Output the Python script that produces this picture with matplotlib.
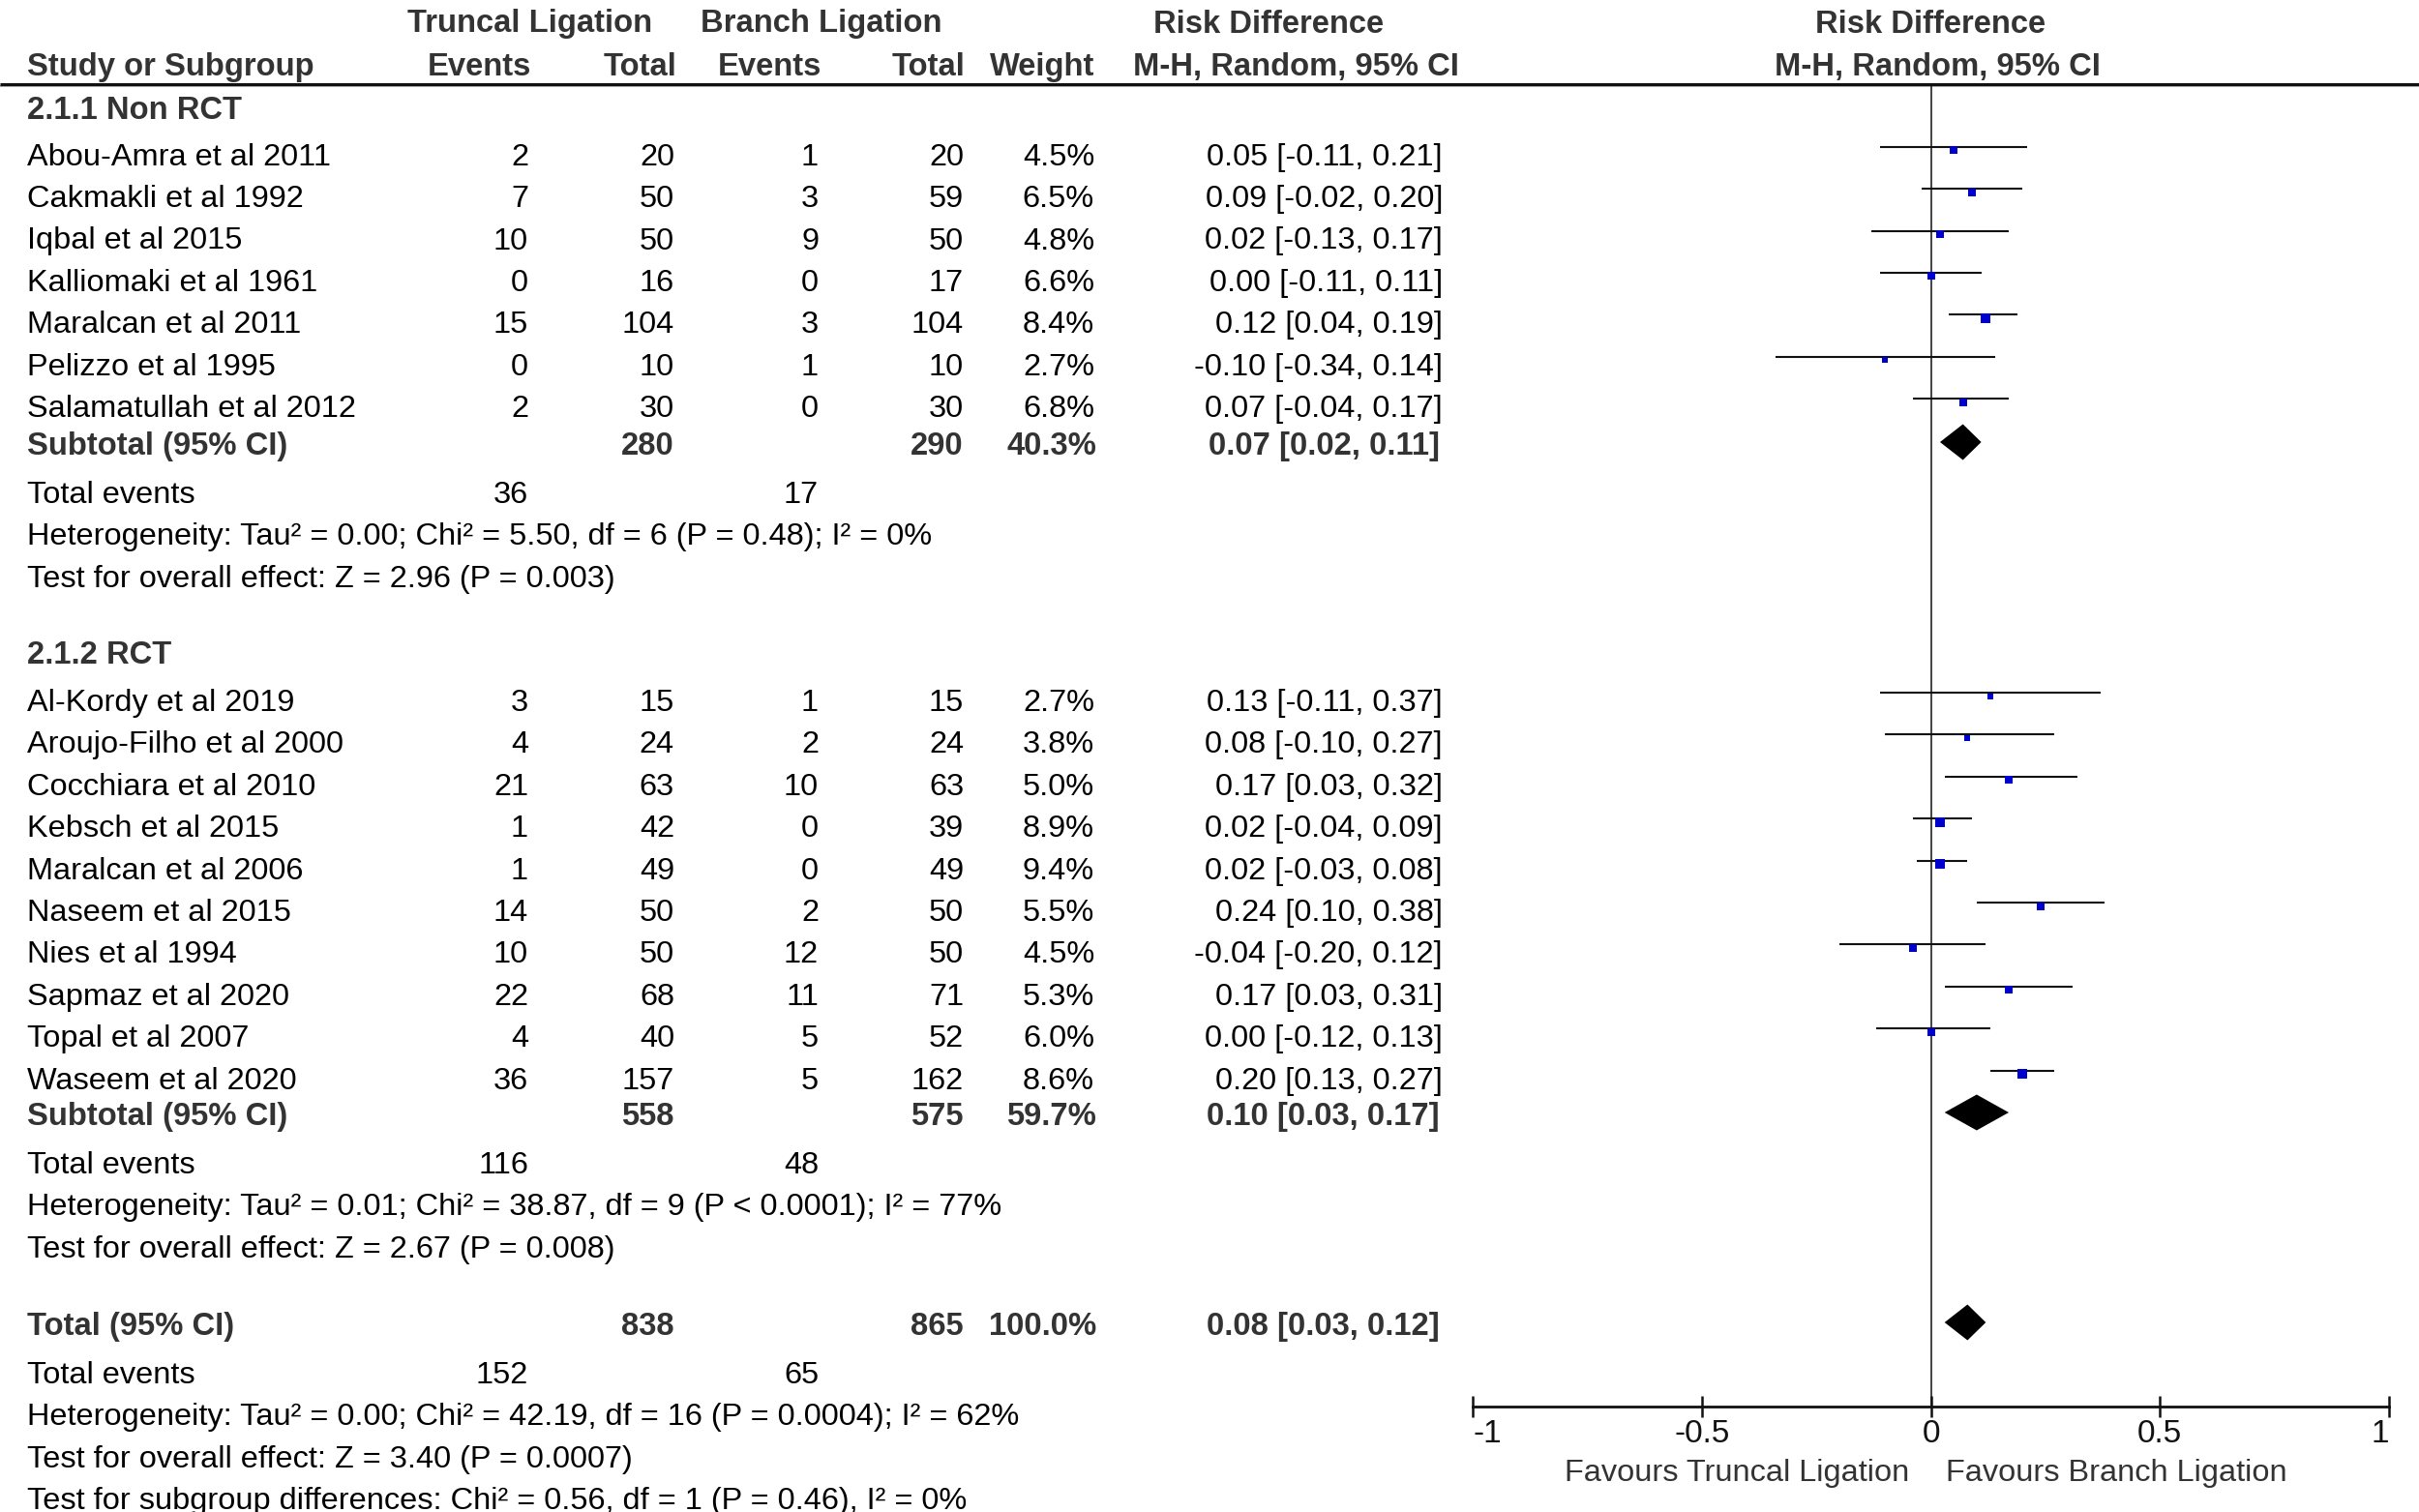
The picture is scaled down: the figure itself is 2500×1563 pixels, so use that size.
import matplotlib
matplotlib.use("Agg")
import matplotlib.pyplot as plt
import numpy as np

plt.rcParams['font.family'] = ['Liberation Sans', 'DejaVu Sans']

# ---------------- data ----------------
group_titles = ["2.1.1 Non RCT", "2.1.2 RCT"]

names1 = ["Abou-Amra et al 2011", "Cakmakli et al 1992", "Iqbal et al 2015",
          "Kalliomaki et al 1961", "Maralcan et al 2011", "Pelizzo et al 1995",
          "Salamatullah et al 2012"]
t_ev1 = [2, 7, 10, 0, 15, 0, 2]
t_tot1 = [20, 50, 50, 16, 104, 10, 30]
b_ev1 = [1, 3, 9, 0, 3, 1, 0]
b_tot1 = [20, 59, 50, 17, 104, 10, 30]
w1 = [4.5, 6.5, 4.8, 6.6, 8.4, 2.7, 6.8]
rd1 = [0.05, 0.09, 0.02, 0.00, 0.12, -0.10, 0.07]
lo1 = [-0.11, -0.02, -0.13, -0.11, 0.04, -0.34, -0.04]
hi1 = [0.21, 0.20, 0.17, 0.11, 0.19, 0.14, 0.17]

names2 = ["Al-Kordy et al 2019", "Aroujo-Filho et al 2000", "Cocchiara et al 2010",
          "Kebsch et al 2015", "Maralcan et al 2006", "Naseem et al 2015",
          "Nies et al 1994", "Sapmaz et al 2020", "Topal et al 2007",
          "Waseem et al 2020"]
t_ev2 = [3, 4, 21, 1, 1, 14, 10, 22, 4, 36]
t_tot2 = [15, 24, 63, 42, 49, 50, 50, 68, 40, 157]
b_ev2 = [1, 2, 10, 0, 0, 2, 12, 11, 5, 5]
b_tot2 = [15, 24, 63, 39, 49, 50, 50, 71, 52, 162]
w2 = [2.7, 3.8, 5.0, 8.9, 9.4, 5.5, 4.5, 5.3, 6.0, 8.6]
rd2 = [0.13, 0.08, 0.17, 0.02, 0.02, 0.24, -0.04, 0.17, 0.00, 0.20]
lo2 = [-0.11, -0.10, 0.03, -0.04, -0.03, 0.10, -0.20, 0.03, -0.12, 0.13]
hi2 = [0.37, 0.27, 0.32, 0.09, 0.08, 0.38, 0.12, 0.31, 0.13, 0.27]

# subtotals: [group1, group2, overall]
sum_t_tot = [280, 558, 838]
sum_b_tot = [290, 575, 865]
sum_w = [40.3, 59.7, 100.0]
sum_rd = [0.07, 0.10, 0.08]
sum_lo = [0.02, 0.03, 0.03]
sum_hi = [0.11, 0.17, 0.12]
sum_t_ev = [36, 116, 152]
sum_b_ev = [17, 48, 65]
het_text = ["Heterogeneity: Tau\u00b2 = 0.00; Chi\u00b2 = 5.50, df = 6 (P = 0.48); I\u00b2 = 0%",
            "Heterogeneity: Tau\u00b2 = 0.01; Chi\u00b2 = 38.87, df = 9 (P < 0.0001); I\u00b2 = 77%",
            "Heterogeneity: Tau\u00b2 = 0.00; Chi\u00b2 = 42.19, df = 16 (P = 0.0004); I\u00b2 = 62%"]
test_text = ["Test for overall effect: Z = 2.96 (P = 0.003)",
             "Test for overall effect: Z = 2.67 (P = 0.008)",
             "Test for overall effect: Z = 3.40 (P = 0.0007)"]
subgroup_text = "Test for subgroup differences: Chi\u00b2 = 0.56, df = 1 (P = 0.46), I\u00b2 = 0%"

x_ticks = [-1, -0.5, 0, 0.5, 1]
x_ticklabels = ["-1", "-0.5", "0", "0.5", "1"]
favours_left = "Favours Truncal Ligation"
favours_right = "Favours Branch Ligation"

# ---------------- layout ----------------
W, H = 2500, 1563
fig = plt.figure(figsize=(W / 100, H / 100), dpi=100)
fig.patch.set_facecolor("white")

tax = fig.add_axes([0, 0, 1, 1])
tax.set_xlim(0, W)
tax.set_ylim(H, 0)
tax.axis("off")

FS = 23.4
FSB = 23.6
BOLDC = "#333333"
REGC = "#000000"

X_NAME = 28
X_TEV, X_TTOT, X_BEV, X_BTOT, X_W, X_CI = 546, 697, 846, 996, 1131, 1491


def txt(x, y, s, bold=False, ha="left", color=None):
    tax.text(x, y, s, fontsize=FSB if bold else FS,
             fontweight="bold" if bold else "normal",
             color=color if color else (BOLDC if bold else REGC),
             ha=ha, va="baseline")


def ci_str(r, l, h):
    return f"{r:.2f} [{l:.2f}, {h:.2f}]"


# headers
txt(548, 33.5, "Truncal Ligation", bold=True, ha="center")
txt(849, 33.5, "Branch Ligation", bold=True, ha="center")
txt(1311, 33.5, "Risk Difference", bold=True, ha="center")
txt(1995, 33.5, "Risk Difference", bold=True, ha="center")
txt(X_NAME, 78, "Study or Subgroup", bold=True)
txt(549, 78, "Events", bold=True, ha="right")
txt(699, 78, "Total", bold=True, ha="right")
txt(849, 78, "Events", bold=True, ha="right")
txt(997, 78, "Total", bold=True, ha="right")
txt(1131, 78, "Weight", bold=True, ha="right")
txt(1339, 78, "M-H, Random, 95% CI", bold=True, ha="center")
txt(2002, 78, "M-H, Random, 95% CI", bold=True, ha="center")

# header rule
HEADER_Y = 87
tax.plot([0, W], [HEADER_Y + 2, HEADER_Y + 2], color="#9a9a9a", lw=1.2, solid_capstyle="butt")
tax.plot([0, W], [HEADER_Y, HEADER_Y], color="#111111", lw=2.2, solid_capstyle="butt")

# forest axes (x in risk-difference units, y in pixel rows)
fx0, fx1 = 1522, 2469
fax = fig.add_axes([fx0 / W, 0, (fx1 - fx0) / W, 1])
fax.set_xlim(-1, 1)
fax.set_ylim(H, 0)
fax.patch.set_alpha(0)
for s in ["top", "left", "right"]:
    fax.spines[s].set_visible(False)
AXIS_Y = 1454
fax.spines["bottom"].set_position(("data", AXIS_Y))
fax.spines["bottom"].set_linewidth(2.0)
fax.spines["bottom"].set_color("#111111")
fax.set_yticks([])
fax.set_xticks(x_ticks)
fax.set_xticklabels(x_ticklabels, fontsize=24, color="#111111")
fax.tick_params(axis="x", direction="inout", length=16.5, width=1.8, color="#111111", pad=1)
lbls = fax.get_xticklabels()
lbls[0].set_ha("left")
lbls[-1].set_ha("right")

fax.vlines(0, HEADER_Y, AXIS_Y, color="#111111", lw=1.1)

fax.text(-0.048, 1531, favours_left, fontsize=FS, color="#333333", ha="right", va="baseline")
fax.text(0.032, 1531, favours_right, fontsize=FS, color="#333333", ha="left", va="baseline")

STEP = 43.4


def study_rows(names, tev, ttot, bev, btot, w, rd, lo, hi, y0):
    ys = []
    for i in range(len(names)):
        yb = y0 + STEP * i
        ys.append(yb)
        txt(X_NAME, yb, names[i])
        txt(X_TEV, yb, str(tev[i]), ha="right")
        txt(X_TTOT, yb, str(ttot[i]), ha="right")
        txt(X_BEV, yb, str(bev[i]), ha="right")
        txt(X_BTOT, yb, str(btot[i]), ha="right")
        txt(X_W, yb, f"{w[i]:.1f}%", ha="right")
        txt(X_CI, yb, ci_str(rd[i], lo[i], hi[i]), ha="right")
        fax.plot([lo[i], hi[i]], [yb - 19, yb - 19], color="#111111", lw=1.5,
                 solid_capstyle="butt")
        side_px = 4.5 + 0.6 * w[i]
        fax.plot([rd[i]], [yb - 15.5], marker="s", ms=side_px * 0.72,
                 color="#0000cc", mec="#0000cc", mew=0, ls="none")
    return ys


def summary_block(k, y_sub, bold_label):
    txt(X_NAME, y_sub, bold_label, bold=True)
    txt(X_TTOT, y_sub, str(sum_t_tot[k]), bold=True, ha="right")
    txt(X_BTOT, y_sub, str(sum_b_tot[k]), bold=True, ha="right")
    txt(X_W + 2, y_sub, f"{sum_w[k]:.1f}%", bold=True, ha="right")
    txt(X_CI - 3, y_sub, ci_str(sum_rd[k], sum_lo[k], sum_hi[k]), bold=True, ha="right")
    yc = y_sub - 13
    hh = 18.5
    fax.fill([sum_lo[k], sum_rd[k], sum_hi[k], sum_rd[k]],
             [yc, yc - hh, yc, yc + hh], color="black", lw=0)
    y_te = y_sub + 49.7
    txt(X_NAME, y_te, "Total events")
    txt(X_TEV, y_te, str(sum_t_ev[k]), ha="right")
    txt(X_BEV, y_te, str(sum_b_ev[k]), ha="right")
    txt(X_NAME, y_te + 43.4, het_text[k])
    txt(X_NAME, y_te + 87.0, test_text[k])
    return y_te + 87.0


# group 1
txt(X_NAME, 122.7, group_titles[0], bold=True)
study_rows(names1, t_ev1, t_tot1, b_ev1, b_tot1, w1, rd1, lo1, hi1, 170.7)
summary_block(0, 470, "Subtotal (95% CI)")

# group 2
txt(X_NAME, 686, group_titles[1], bold=True)
study_rows(names2, t_ev2, t_tot2, b_ev2, b_tot2, w2, rd2, lo2, hi2, 735)
summary_block(1, 1163, "Subtotal (95% CI)")

# overall
last = summary_block(2, 1380, "Total (95% CI)")
txt(X_NAME, last + 43.4, subgroup_text)

fig.savefig("out.png", dpi=100, facecolor="white")
